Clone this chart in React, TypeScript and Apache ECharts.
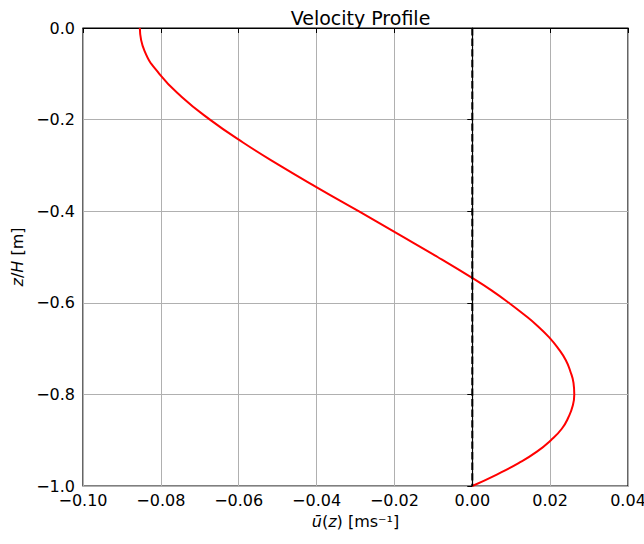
import React, { useEffect, useRef } from "react";
import * as echarts from "echarts";

const depth = [0, -0.05, -0.1, -0.15, -0.2, -0.25, -0.3, -0.35, -0.4, -0.45, -0.5, -0.55, -0.575, -0.6, -0.625, -0.65, -0.675, -0.7, -0.725, -0.75, -0.775, -0.8, -0.825, -0.85, -0.875, -0.9, -0.925, -0.95, -0.975, -1.0];
const velocity = [-0.0854, -0.0842, -0.0804, -0.0747, -0.0674, -0.0589, -0.0495, -0.0395, -0.0292, -0.019, -0.0089, 0.0008, 0.0053, 0.0094, 0.0132, 0.0167, 0.0197, 0.0221, 0.024, 0.0252, 0.026, 0.0262, 0.0258, 0.0247, 0.023, 0.0202, 0.0166, 0.0119, 0.0063, 0.0];
const zeroLineX = [0, 0];
const zeroLineY = [0, -1];

const fmt = (v: number, d: number) => {
  const s = Math.abs(v) < 1e-9 ? (0).toFixed(d) : v.toFixed(d);
  return s.replace("-", "\u2212");
};

const FONT = "DejaVu Sans";

export default function App() {
  const ref = useRef<HTMLDivElement>(null);
  useEffect(() => {
    if (!ref.current) return;
    const chart = echarts.init(ref.current, undefined, { renderer: "svg" });
    chart.setOption({
      animation: false,
      backgroundColor: "#ffffff",
      textStyle: { fontFamily: FONT },
      title: {
        text: "Velocity Profile",
        left: 355.5,
        textAlign: "center",
        top: 3,
        textStyle: { fontFamily: FONT, fontSize: 19, fontWeight: "normal", color: "#000" },
      },
      grid: {
        left: 83,
        right: 16,
        top: 28,
        bottom: 58,
        show: true,
        borderColor: "#000",
        borderWidth: 1.2,
        outerBoundsMode: "none",
        containLabel: false,
      },
      xAxis: {
        type: "value",
        min: -0.1,
        max: 0.04,
        interval: 0.02,
        name: "{i|\u016b}({i|z}) [ms\u207b\u00b9]",
        nameLocation: "middle",
        nameGap: 27,
        nameTextStyle: {
          fontFamily: FONT,
          fontSize: 16,
          color: "#000",
          rich: { i: { fontFamily: FONT, fontSize: 16, fontStyle: "italic", color: "#000" } },
        },
        axisLine: { show: true, lineStyle: { color: "#000", width: 1.2 } },
        axisTick: { show: true, length: 5, lineStyle: { color: "#000" } },
        axisLabel: { fontFamily: FONT, fontSize: 16, color: "#000", margin: 6, formatter: (v: number) => fmt(v, 2) },
        splitLine: { show: true, lineStyle: { color: "#b0b0b0", width: 1 } },
      },
      yAxis: {
        type: "value",
        min: -1,
        max: 0,
        interval: 0.2,
        name: "{i|z}/{i|H} [m]",
        nameLocation: "middle",
        nameRotate: 90,
        nameGap: 57,
        nameTextStyle: {
          fontFamily: FONT,
          fontSize: 16,
          color: "#000",
          rich: { i: { fontFamily: FONT, fontSize: 16, fontStyle: "italic", color: "#000" } },
        },
        axisLine: { show: true, lineStyle: { color: "#000", width: 1.2 } },
        axisTick: { show: true, length: 5, lineStyle: { color: "#000" } },
        axisLabel: { fontFamily: FONT, fontSize: 16, color: "#000", margin: 8, formatter: (v: number) => fmt(v, 1) },
        splitLine: { show: true, lineStyle: { color: "#b0b0b0", width: 1 } },
      },
      series: [
        {
          type: "line",
          data: velocity.map((u, i) => [u, depth[i]]),
          smooth: 0.5,
          showSymbol: false,
          lineStyle: { color: "#ff0000", width: 2 },
          z: 3,
        },
        {
          type: "line",
          data: zeroLineX.map((u, i) => [u, zeroLineY[i]]),
          showSymbol: false,
          lineStyle: { color: "#000", width: 2, type: [7.4, 3.2] },
          z: 4,
        },
      ],
    });
    return () => chart.dispose();
  }, []);
  return <div ref={ref} style={{ position: "fixed", left: 0, top: 0, width: 644, height: 544 }} />;
}
